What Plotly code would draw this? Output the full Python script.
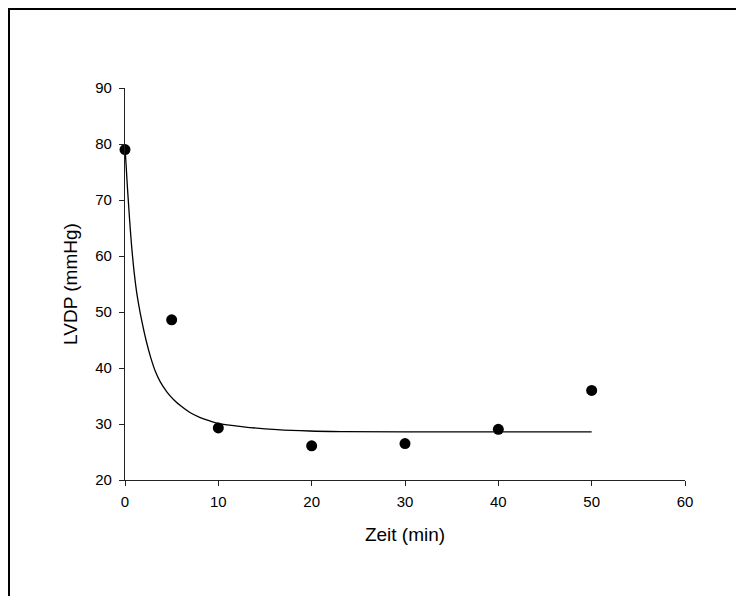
import plotly.graph_objects as go

# Measured points
time_min = [0, 5, 10, 20, 30, 40, 50]
lvdp = [79.0, 48.6, 29.3, 26.1, 26.5, 29.05, 36.0]

# Fitted curve
fit_x = [0, 0.25, 0.5, 0.75, 1.0, 1.25, 1.5, 1.75, 2.25, 2.75, 3.25, 3.75, 4.5, 5.25, 6, 7, 8, 9, 10, 12.7, 16.3, 19.8, 23.4, 30, 40, 50]
fit_y = [79.5, 72.5, 66.3, 61.0, 56.8, 53.5, 51.0, 48.8, 45.0, 41.9, 39.4, 37.6, 35.7, 34.3, 33.2, 32.0, 31.2, 30.6, 30.1, 29.5, 29.0, 28.75, 28.65, 28.6, 28.6, 28.6]

x_ticks = [0, 10, 20, 30, 40, 50, 60]
y_ticks = [20, 30, 40, 50, 60, 70, 80, 90]

FONT = "Liberation Sans, Arial, sans-serif"
W, H = 728, 588
L, T, PW, PH = 117, 80, 560, 392

fig = go.Figure()
fig.add_trace(go.Scatter(x=fit_x, y=fit_y, mode="lines",
                         line=dict(color="black", width=1.3, shape="spline", smoothing=1.0),
                         hoverinfo="skip", showlegend=False, cliponaxis=False))
fig.add_trace(go.Scatter(x=time_min, y=lvdp, mode="markers", marker=dict(color="black", size=11),
                         showlegend=False, cliponaxis=False))

axis_font = dict(family=FONT, size=15, color="black")
title_font = dict(family=FONT, size=19, color="black")
frame_line = dict(color="black", width=2)
fig.update_layout(
    width=W, height=H,
    margin=dict(l=L, r=W - L - PW, t=T, b=H - T - PH, autoexpand=False),
    paper_bgcolor="white", plot_bgcolor="white",
    font=dict(family=FONT, color="black"),
    xaxis=dict(range=[0, 60], tickvals=x_ticks, ticks="outside", ticklen=5, tickwidth=1, tickcolor="#222",
               showline=True, linecolor="#222", linewidth=1.2, showgrid=False, zeroline=False,
               tickfont=axis_font, automargin=False, ticklabelstandoff=3,
               title=dict(text="Zeit (min)", font=title_font, standoff=18)),
    yaxis=dict(range=[20, 90], tickvals=y_ticks, ticks="outside", ticklen=5, tickwidth=1, tickcolor="#222",
               showline=True, linecolor="#222", linewidth=1.2, showgrid=False, zeroline=False,
               tickfont=axis_font, automargin=False, ticklabelstandoff=4,
               title=dict(text="LVDP (mmHg)", font=title_font, standoff=12)),
    shapes=[
        dict(type="line", xref="paper", yref="paper",
             x0=(1 - L) / PW, x1=(1 - L) / PW, y0=(T + PH - (H + 20)) / PH, y1=(T + PH) / PH + 0.5 / PH,
             line=frame_line, layer="below"),
        dict(type="line", xref="paper", yref="paper",
             x0=(1 - L) / PW, x1=(W + 20 - L) / PW, y0=(T + PH - 1) / PH, y1=(T + PH - 1) / PH,
             line=frame_line, layer="below"),
    ],
)

fig.write_html("out.html")
